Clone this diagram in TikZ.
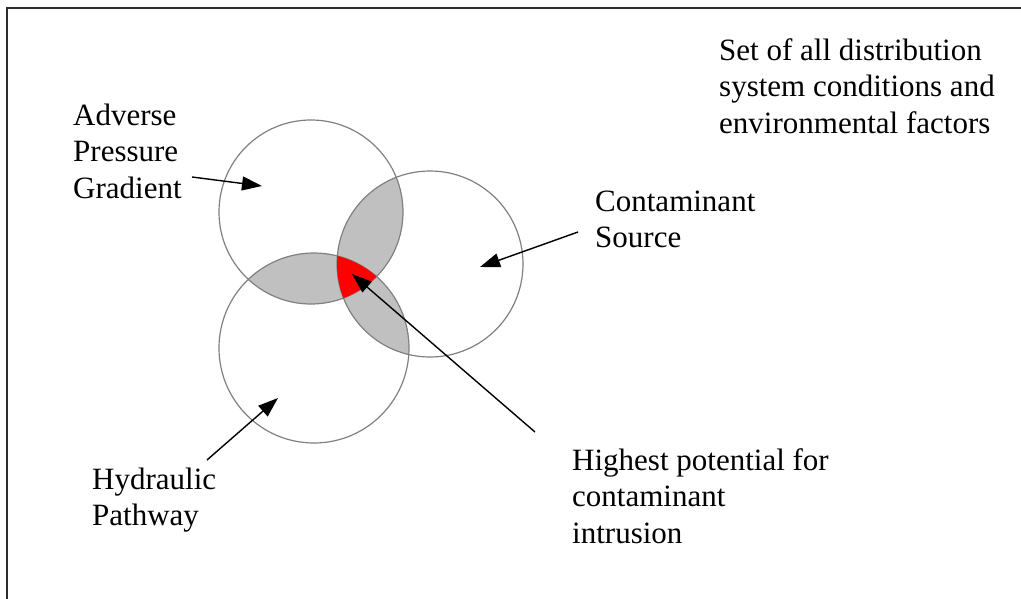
\documentclass[tikz,border=0pt]{standalone}
\usepackage{fontspec}
\setmainfont{Liberation Serif}
\usetikzlibrary{arrows.meta}
\definecolor{lensgray}{RGB}{192,192,192}
\definecolor{rimgray}{RGB}{128,128,128}
\definecolor{framegray}{RGB}{45,45,45}
\begin{document}
\begin{tikzpicture}[x=1pt,y=-1pt,
  lbl/.style={anchor=base west, inner sep=0pt, font=\fontsize{31}{36.5}\selectfont},
  ptr/.style={line width=1.4pt, -{Triangle[length=20pt,width=14pt]}},
  rim/.style={draw=rimgray, line width=1.2pt}]
\useasboundingbox (0,0) rectangle (1021,598);
% frame
\coordinate (fBL) at (7,600);
\coordinate (fTL) at (7,8);
\coordinate (fTR) at (1023,8);
\draw[framegray, line width=2pt] (fBL) -- (fTL) -- (fTR);
% circle centres
\coordinate (A) at (311,212);
\coordinate (C) at (430,264);
\coordinate (H) at (314,348);
% pairwise overlaps
\begin{scope}
  \clip (A) circle[radius=92pt];
  \fill[lensgray] (C) circle[radius=93pt];
  \fill[lensgray] (H) circle[radius=95pt];
\end{scope}
\begin{scope}
  \clip (C) circle[radius=93pt];
  \fill[lensgray] (H) circle[radius=95pt];
\end{scope}
% outlines
\draw[rim] (A) circle[radius=92pt];
\draw[rim] (C) circle[radius=93pt];
\draw[rim] (H) circle[radius=95pt];
% triple overlap
\begin{scope}
  \clip (A) circle[radius=92pt];
  \clip (C) circle[radius=93pt];
  \fill[red] (H) circle[radius=95pt];
\end{scope}
% labels
\node[lbl] (setlbl) at (719,60) {\begin{tabular}[t]{@{}l@{}}Set of all distribution\\system conditions and\\environmental factors\end{tabular}};
\node[lbl] (advlbl) at (73,125) {\begin{tabular}[t]{@{}l@{}}Adverse\\Pressure\\Gradient\end{tabular}};
\node[lbl] (conlbl) at (595,211) {\begin{tabular}[t]{@{}l@{}}Contaminant\\Source\end{tabular}};
\node[lbl] (hydlbl) at (92,489) {\begin{tabular}[t]{@{}l@{}}Hydraulic\\Pathway\end{tabular}};
\node[lbl] (hilbl) at (572,470) {\begin{tabular}[t]{@{}l@{}}Highest potential for\\contaminant\\intrusion\end{tabular}};
% arrows
\coordinate (advS) at (192,177);
\coordinate (advT) at (262,186);
\coordinate (conS) at (578,232);
\coordinate (conT) at (480,267);
\coordinate (hydS) at (207,460);
\coordinate (hydT) at (278,398);
\coordinate (hiS) at (535,432);
\coordinate (hiT) at (352,274);
\draw[ptr] (advS) -- (advT);
\draw[ptr] (conS) -- (conT);
\draw[ptr] (hydS) -- (hydT);
\draw[ptr] (hiS) -- (hiT);
\end{tikzpicture}
\end{document}
